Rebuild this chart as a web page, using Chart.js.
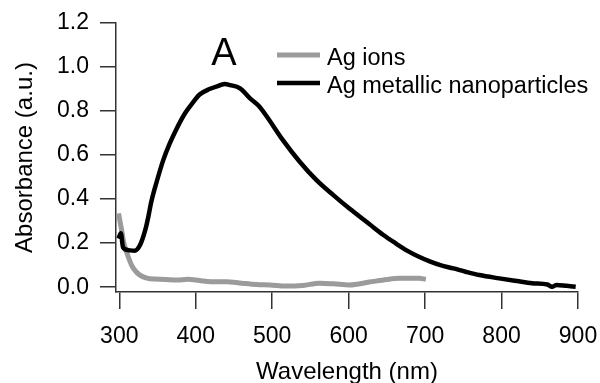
<!DOCTYPE html>
<html>
<head>
<meta charset="utf-8">
<script src="https://cdn.jsdelivr.net/npm/chart.js@4.4.1/dist/chart.umd.min.js"></script>
<style>
  body { margin: 0; background: #fff; }
  #wrap { width: 600px; height: 383px; }
</style>
</head>
<body>
<div id="wrap"><canvas id="chart-absorbance" width="600" height="383"></canvas></div>
<script>
// Ag metallic nanoparticles (black)
const wavelength_np = [299, 302, 305, 312, 320, 327, 334, 338, 342, 349, 357.5, 366, 375, 386, 397, 405, 418, 431, 438, 445, 458, 471, 482, 492, 514, 536, 558, 580, 601, 627, 645, 662, 677, 692, 706, 720, 737, 753, 771, 797, 820, 840, 860, 866, 872, 885, 897];
const absorbance_np = [0.22, 0.245, 0.18, 0.168, 0.165, 0.19, 0.26, 0.32, 0.39, 0.48, 0.577, 0.653, 0.72, 0.79, 0.842, 0.875, 0.9, 0.916, 0.923, 0.918, 0.903, 0.858, 0.825, 0.78, 0.668, 0.57, 0.486, 0.418, 0.357, 0.287, 0.238, 0.198, 0.165, 0.138, 0.117, 0.10, 0.085, 0.07, 0.055, 0.04, 0.028, 0.018, 0.012, 0.002, 0.01, 0.006, 0.002];

// Ag ions (grey)
const wavelength_ions = [299, 303, 306, 310, 316, 322, 327, 335, 340, 360, 375, 390, 405, 420, 440, 460, 480, 497, 518, 540, 562, 580, 601, 627, 650, 666, 692, 701];
const absorbance_ions = [0.335, 0.26, 0.2, 0.155, 0.10, 0.07, 0.055, 0.042, 0.038, 0.035, 0.032, 0.036, 0.03, 0.025, 0.025, 0.018, 0.012, 0.01, 0.005, 0.008, 0.018, 0.015, 0.01, 0.023, 0.035, 0.04, 0.04, 0.036];

const x_ticks = [300, 400, 500, 600, 700, 800, 900];
const y_ticks = [0.0, 0.2, 0.4, 0.6, 0.8, 1.0, 1.2];
const legend_labels = ["Ag ions", "Ag metallic nanoparticles"];

const FONT = "'Liberation Sans', Arial, sans-serif";
const AXIS_COLOR = "#333";

const toPoints = (xs, ys) => xs.map((x, i) => ({ x: x, y: ys[i] }));

// legend + panel letter drawn inside the plot
const overlay = {
    id: "overlay",
    afterDraw(chart) {
        const ctx = chart.ctx;
        ctx.save();
        ctx.fillStyle = "#000";
        ctx.font = "38px " + FONT;
        ctx.textAlign = "center";
        ctx.textBaseline = "alphabetic";
        ctx.fillText("A", 224, 65);

        const rows = [55, 83];
        chart.data.datasets.forEach((ds, i) => {
            ctx.strokeStyle = ds.borderColor;
            ctx.lineWidth = ds.borderWidth;
            ctx.beginPath();
            ctx.moveTo(277, rows[i]);
            ctx.lineTo(320, rows[i]);
            ctx.stroke();
            ctx.fillStyle = "#000";
            ctx.font = "23.5px " + FONT;
            ctx.textAlign = "left";
            ctx.fillText(ds.label, 327, rows[i] + 10);
        });
        ctx.restore();
    }
};

new Chart(document.getElementById("chart-absorbance"), {
    type: "line",
    data: {
        datasets: [{
            label: legend_labels[0],
            data: toPoints(wavelength_ions, absorbance_ions),
            borderColor: "rgb(155, 155, 155)",
            borderWidth: 5,
            pointRadius: 0,
            cubicInterpolationMode: "monotone",
            order: 2
        }, {
            label: legend_labels[1],
            data: toPoints(wavelength_np, absorbance_np),
            borderColor: "#000",
            borderWidth: 4.5,
            pointRadius: 0,
            cubicInterpolationMode: "monotone",
            order: 1
        }]
    },
    options: {
        responsive: false,
        animation: false,
        layout: { padding: { top: 23, right: 22, left: 0, bottom: 0 } },
        plugins: {
            legend: { display: false },
            tooltip: { enabled: false }
        },
        scales: {
            x: {
                type: "linear",
                min: 295.7,
                max: 900,
                afterBuildTicks: (s) => { s.ticks = x_ticks.map(v => ({ value: v })); },
                afterFit: (s) => { s.height = 91; s.paddingLeft = 0; s.paddingRight = 0; },
                border: { display: true, color: AXIS_COLOR, width: 1.5 },
                grid: { drawOnChartArea: false, drawTicks: true, tickLength: 17, color: AXIS_COLOR, lineWidth: 1.5 },
                ticks: { color: "#000", padding: 14, maxRotation: 0, font: { family: FONT, size: 23 } },
                title: {
                    display: true,
                    text: "Wavelength (nm)",
                    color: "#000",
                    padding: { top: 0, bottom: -1.5 },
                    font: { family: FONT, size: 24, lineHeight: 1 }
                }
            },
            y: {
                type: "linear",
                min: -0.022,
                max: 1.2,
                afterBuildTicks: (s) => { s.ticks = y_ticks.map(v => ({ value: v })); },
                afterFit: (s) => { s.width = 116; s.paddingTop = 0; s.paddingBottom = 0; },
                border: { display: true, color: AXIS_COLOR, width: 1.5 },
                grid: { drawOnChartArea: false, drawTicks: true, tickLength: 16, color: AXIS_COLOR, lineWidth: 1.5 },
                ticks: {
                    color: "#000",
                    padding: 11,
                    font: { family: FONT, size: 23 },
                    callback: (v) => Number(v).toFixed(1)
                },
                title: {
                    display: true,
                    text: "Absorbance (a.u.)",
                    color: "#000",
                    padding: { top: 13, bottom: 0 },
                    font: { family: FONT, size: 24, lineHeight: 1 }
                }
            }
        }
    },
    plugins: [overlay]
});
</script>
</body>
</html>
